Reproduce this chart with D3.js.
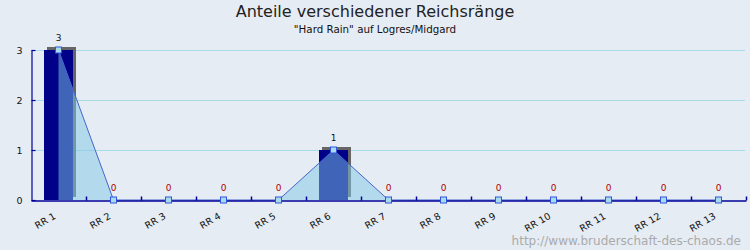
<!DOCTYPE html>
<html>
<head>
<meta charset="utf-8">
<script src="https://cdn.jsdelivr.net/npm/d3@7"></script>
<style>
body { margin: 0; background: #e6ecf3; }
svg { display: block; font-family: "DejaVu Sans", sans-serif; }
</style>
</head>
<body>
<script>
var categories = ["RR 1", "RR 2", "RR 3", "RR 4", "RR 5", "RR 6", "RR 7",
                  "RR 8", "RR 9", "RR 10", "RR 11", "RR 12", "RR 13"];
var values = [3, 0, 0, 0, 0, 1, 0, 0, 0, 0, 0, 0, 0];
var yTicks = [0, 1, 2, 3];
var title = "Anteile verschiedener Reichsränge";
var subtitle = "\"Hard Rain\" auf Logres/Midgard";
var footer = "http://www.bruderschaft-des-chaos.de";

var width = 750, height = 250;
var plotLeft = 31, plotRight = 746, plotTop = 50, plotBottom = 200;

var svg = d3.select("body").append("svg")
    .attr("width", width)
    .attr("height", height);

svg.append("rect")
    .attr("width", width).attr("height", height)
    .attr("fill", "#e6ecf3");

var x = d3.scaleBand()
    .domain(categories)
    .range([plotLeft, plotRight]);

var xi = d3.scaleLinear()
    .domain([0, categories.length])
    .range([plotLeft, plotRight]);

var y = d3.scaleLinear()
    .domain([0, 3])
    .range([plotBottom, plotTop]);

var barW = x.bandwidth() * 29 / 55;
var cx = function (d, i) { return x(categories[i]) + x.bandwidth() / 2; };

// grid
svg.append("g").selectAll("line")
    .data(yTicks.filter(function (d) { return d > 0; }))
    .enter().append("line")
    .attr("x1", plotLeft).attr("x2", plotRight - 1)
    .attr("y1", function (d) { return y(d) + 0.5; })
    .attr("y2", function (d) { return y(d) + 0.5; })
    .attr("stroke", "#a6dbe8")
    .attr("stroke-width", 1);

// bars with shadow
var bars = svg.append("g");
values.forEach(function (v, i) {
    if (v <= 0) return;
    var bx = cx(v, i) - barW / 2;
    bars.append("rect")
        .attr("x", bx + 3).attr("y", y(v) - 3)
        .attr("width", barW).attr("height", plotBottom - y(v))
        .attr("fill", "#666666");
    bars.append("rect")
        .attr("x", bx).attr("y", y(v))
        .attr("width", barW).attr("height", plotBottom - y(v))
        .attr("fill", "#000088");
});

// area + line
var area = d3.area()
    .x(cx)
    .y0(plotBottom)
    .y1(function (d) { return y(d); });

var line = d3.line()
    .x(cx)
    .y(function (d) { return y(d); });

svg.append("path")
    .datum(values)
    .attr("d", area)
    .attr("fill", "#80c8e6")
    .attr("fill-opacity", 0.5);

svg.append("path")
    .datum(values)
    .attr("d", line)
    .attr("fill", "none")
    .attr("stroke", "#4466cc")
    .attr("stroke-width", 1);

// axes
var xAxis = d3.axisTop(xi)
    .tickValues(d3.range(1, categories.length + 1))
    .tickFormat("")
    .tickSizeInner(4)
    .tickSizeOuter(0);

var gx = svg.append("g")
    .attr("transform", "translate(0," + (plotBottom + 0.5) + ")")
    .call(xAxis);
gx.selectAll("path, line").attr("stroke", "#000099").attr("stroke-width", 1.5);

var yAxis = d3.axisLeft(y)
    .tickValues(yTicks)
    .tickFormat(d3.format("d"))
    .tickSizeInner(-4)
    .tickSizeOuter(0)
    .tickPadding(9);

var gy = svg.append("g")
    .attr("transform", "translate(" + (plotLeft + 0.5) + ",0)")
    .call(yAxis);
gy.selectAll("path, line").attr("stroke", "#000099").attr("stroke-width", 1.2);
gy.selectAll("text")
    .attr("font-size", "9.5px")
    .attr("font-family", "DejaVu Sans")
    .attr("fill", "#111");

// x labels
svg.append("g").selectAll("text")
    .data(categories)
    .enter().append("text")
    .attr("transform", function (d) {
        return "translate(" + (x(d) + x.bandwidth() / 2 - 2) + ",218) rotate(-30)";
    })
    .attr("text-anchor", "end")
    .attr("font-size", "9.5px")
    .attr("fill", "#111")
    .text(function (d) { return d; });

// markers
svg.append("g").selectAll("rect")
    .data(values)
    .enter().append("rect")
    .attr("x", function (d, i) { return cx(d, i) - 3; })
    .attr("y", function (d) { return y(d) - 3; })
    .attr("width", 6).attr("height", 6)
    .attr("fill", "#a8dcec")
    .attr("stroke", "#3355dd")
    .attr("stroke-width", 1);

// value labels
svg.append("g").selectAll("text")
    .data(values)
    .enter().append("text")
    .attr("x", cx)
    .attr("y", function (d) { return y(d) - 9; })
    .attr("text-anchor", "middle")
    .attr("font-size", "9px")
    .attr("fill", function (d) { return d > 0 ? "#111" : "#b00000"; })
    .text(function (d) { return d; });

// titles
svg.append("text")
    .attr("x", 375).attr("y", 17)
    .attr("text-anchor", "middle")
    .attr("font-size", "16px")
    .attr("fill", "#222")
    .text(title);

svg.append("text")
    .attr("x", 375).attr("y", 33)
    .attr("text-anchor", "middle")
    .attr("font-size", "10.3px")
    .attr("fill", "#111")
    .text(subtitle);

svg.append("text")
    .attr("x", 741).attr("y", 245)
    .attr("text-anchor", "end")
    .attr("font-size", "12px")
    .attr("fill", "#aaaaaa")
    .text(footer);
</script>
</body>
</html>
